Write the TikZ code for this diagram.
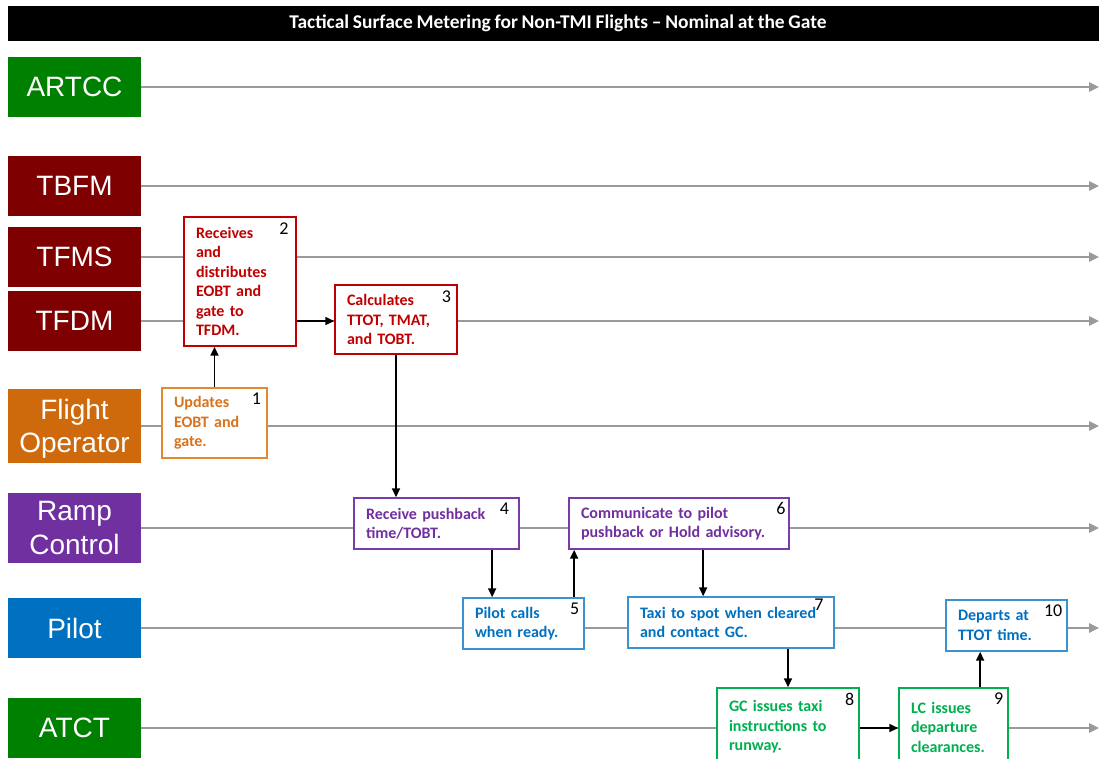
\documentclass[tikz,border=0pt]{standalone}
\usepackage{fontspec}
\setmainfont{Carlito}[WordSpace=0.85]
\newfontfamily\lanefont{Liberation Sans}
\usetikzlibrary{arrows.meta,calc,positioning}

\definecolor{laneGreen}{HTML}{008000}
\definecolor{laneRed}{HTML}{7F0000}
\definecolor{laneOrange}{HTML}{CF6A0C}
\definecolor{lanePurple}{HTML}{7030A0}
\definecolor{laneBlue}{HTML}{0070C0}
\definecolor{txtRed}{HTML}{C00000}
\definecolor{txtOrange}{HTML}{D8721E}
\definecolor{boxOrange}{HTML}{E38A30}
\definecolor{boxPurple}{HTML}{7A3CAA}
\definecolor{boxBlue}{HTML}{3A93CF}
\definecolor{txtGreen}{HTML}{00B050}
\definecolor{timeline}{HTML}{9A9A9A}

\tikzset{
  lane/.style={fill=#1, text=white, font=\lanefont\fontsize{21}{25}\selectfont,
    minimum width=99.75pt, minimum height=45pt, align=center, inner sep=0pt},
  actbox/.style 2 args={draw=#1, text=#2, fill=white, line width=1.3pt,
    font=\bfseries\fontsize{12}{14.6}\selectfont, align=left, inner xsep=9pt,
    inner ysep=0pt},
  num/.style={anchor=north east, font=\fontsize{13.5}{15}\selectfont, inner sep=0pt},
  timeline/.style={draw=timeline, line width=1.5pt, -{Triangle[length=7.5pt,width=7pt]}},
  flow/.style={draw=black, line width=1.1pt, -{Triangle[length=6.5pt,width=6pt]}},
}

\begin{document}
\begin{tikzpicture}[x=0.75pt,y=-0.75pt]
    \useasboundingbox (0,0) rectangle (1099,758);

    % title bar
    \node[fill=black, minimum width=818.25pt, minimum height=26.25pt, inner sep=0pt] (title) at (553.5,23.5) {};
    \node[text=white, font=\bfseries\fontsize{14.6}{16}\selectfont, inner sep=0pt] (title-text) at (558,23.5)
      {Tactical Surface Metering for Non-TMI Flights -- Nominal at the Gate};

    % lanes
    \node[lane=laneGreen] (artcc) at (74.5,87) {ARTCC};
    \node[lane=laneRed] (tbfm) at (74.5,186) {TBFM};
    \node[lane=laneRed] (tfms) at (74.5,257) {TFMS};
    \node[lane=laneRed] (tfdm) at (74.5,321) {TFDM};
    \node[lane=laneOrange, minimum height=55.5pt, text depth=0pt] (fltop) at (74.5,426) {Flight\\Operator};
    \node[lane=lanePurple, minimum height=52.5pt, text depth=0pt] (ramp) at (74.5,528) {Ramp\\Control};
    \node[lane=laneBlue] (pilot) at (74.5,628) {Pilot};
    \node[lane=laneGreen] (atct) at (74.5,728) {ATCT};

    % lane ends
    \coordinate (artcc-end) at (1099,87);
    \coordinate (tbfm-end) at (1099,186);
    \coordinate (tfms-end) at (1099,257);
    \coordinate (tfdm-end) at (1099,321);
    \coordinate (fltop-end) at (1099,426);
    \coordinate (ramp-end) at (1099,528);
    \coordinate (pilot-end) at (1099,628);
    \coordinate (atct-end) at (1099,728);

    \draw[timeline] (artcc.east) -- (artcc-end);
    \draw[timeline] (tbfm.east) -- (tbfm-end);
    \draw[timeline] (tfms.east) -- (tfms-end);
    \draw[timeline] (tfdm.east) -- (tfdm-end);
    \draw[timeline] (fltop.east) -- (fltop-end);
    \draw[timeline] (ramp.east) -- (ramp-end);
    \draw[timeline] (pilot.east) -- (pilot-end);
    \draw[timeline] (atct.east) -- (atct-end);

    % steps
    \node[actbox={boxOrange}{txtOrange}, text width=60.75pt, minimum height=52.5pt] (s1) at (214.5,423)
      {Updates\\EOBT and\\gate.};
    \node[actbox={txtRed}{txtRed}, text width=66pt, minimum height=96.75pt] (s2) at (240,281.5)
      {Receives\\and\\distributes\\EOBT and\\gate to\\TFDM.};
    \node[actbox={txtRed}{txtRed}, text width=73.5pt, minimum height=51.75pt] (s3) at (396,319.5)
      {Calculates\\TTOT, TMAT,\\and TOBT.};
    \node[actbox={boxPurple}{lanePurple}, text width=105.75pt, minimum height=38.25pt] (s4) at (436.5,523.5)
      {Receive pushback\\time/TOBT.};
    \node[actbox={boxBlue}{laneBlue}, text width=72.75pt, minimum height=38.25pt] (s5) at (523.5,623.5)
      {Pilot calls\\when ready.};
    \node[actbox={boxPurple}{lanePurple}, text width=147pt, minimum height=38.25pt] (s6) at (679,523.5)
      {Communicate to pilot\\pushback or Hold advisory.};
    \node[actbox={boxBlue}{laneBlue}, text width=136.5pt, minimum height=38.25pt] (s7) at (731,622.5)
      {Taxi to spot when cleared\\and contact GC.};
    \node[actbox={txtGreen}{txtGreen}, text width=88.5pt, minimum height=58.5pt] (s8) at (788,727)
      {GC issues taxi\\instructions to\\runway.};
    \node[actbox={txtGreen}{txtGreen}, text width=63.75pt, minimum height=58.5pt] (s9) at (953.5,727)
      {LC issues\\departure\\clearances.};
    \node[actbox={boxBlue}{laneBlue}, text width=72.75pt, minimum height=38.25pt] (s10) at (1006.5,625.5)
      {Departs at\\TTOT time.};

    % step numbers
    \node[num] (n1) at ([xshift=-5pt,yshift=-4pt]s1.north east) {1};
    \node[num] (n2) at ([xshift=-6pt,yshift=-5pt]s2.north east) {2};
    \node[num] (n3) at ([xshift=-5pt,yshift=-5pt]s3.north east) {3};
    \node[num] (n4) at ([xshift=-8pt,yshift=-4pt]s4.north east) {4};
    \node[num] (n5) at ([xshift=-4pt,yshift=-4pt]s5.north east) {5};
    \node[num] (n6) at ([xshift=-3pt,yshift=-4pt]s6.north east) {6};
    \node[num] (n7) at ([xshift=-8.25pt,yshift=-2pt]s7.north east) {7};
    \node[num] (n8) at ([xshift=-4pt,yshift=-4pt]s8.north east) {8};
    \node[num] (n9) at ([xshift=-4pt,yshift=-4pt]s9.north east) {9};
    \node[num] (n10) at ([xshift=-4pt,yshift=-4pt]s10.north east) {10};

    % hand-offs
    \coordinate (c45) at ($(s5.north west)+(30,0)$);
    \coordinate (c56) at ($(s6.south west)+(6,0)$);
    \coordinate (c67) at ($(s6.south west)+(135,0)$);
    \coordinate (c910) at ($(s9.north west)+(82,0)$);

    \draw[flow] (s1.north) -- (s1.north |- s2.south);
    \draw[flow] (s2.east |- tfdm) -- (s3.west |- tfdm);
    \draw[flow] (s3.south) -- (s3.south |- s4.north);
    \draw[flow] (c45 |- s4.south) -- (c45);
    \draw[flow] (c56 |- s5.north) -- (c56);
    \draw[flow] (c67) -- (c67 |- s7.north);
    \draw[flow] (s8.north |- s7.south) -- (s8.north);
    \draw[flow] (s8.east |- atct) -- (s9.west |- atct);
    \draw[flow] (c910 |- s9.north) -- (c910 |- s10.south);
\end{tikzpicture}
\end{document}
